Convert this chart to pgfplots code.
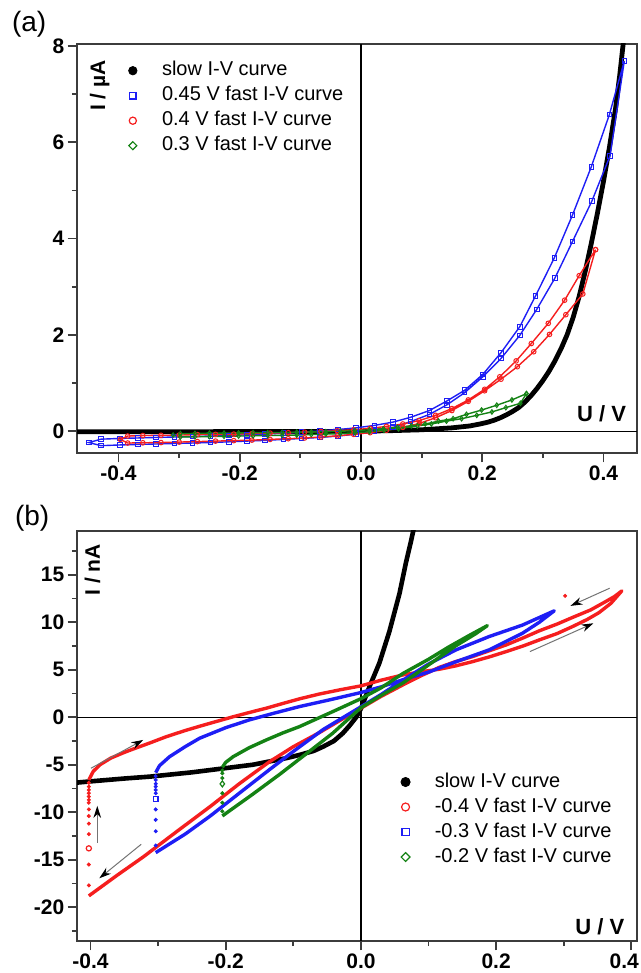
\documentclass[border=0pt]{standalone}
\usepackage{fontspec}
\setmainfont{Liberation Sans}
\usepackage{pgfplots}
\pgfplotsset{compat=1.18}
\usetikzlibrary{arrows.meta}
\definecolor{cblue}{RGB}{30,30,245}
\definecolor{cred}{RGB}{245,30,30}
\definecolor{cgreen}{RGB}{20,130,20}
\definecolor{frame}{RGB}{60,60,60}
\pgfplotsset{
  ivax/.style={
    scale only axis, width=280pt,
    axis line style={line width=0.9pt, frame},
    tick style={line width=0.9pt, frame},
    tick align=outside,
    xtick pos=bottom, ytick pos=left,
    major tick length=4.7pt, minor tick length=2.6pt,
    ticklabel style={font=\fontsize{10.5}{12}\selectfont\bfseries},
    yticklabel style={inner sep=1.5pt},
    xticklabel style={inner sep=1.4pt},
    xtick={-0.4,-0.2,0,0.2,0.4},
    xticklabels={-0.4,-0.2,0.0,0.2,0.4},
    minor xtick={-0.3,-0.1,0.1,0.3},
    legend cell align=left,
    legend style={draw=none, fill=none, inner sep=0pt,
      font=\fontsize{10}{12}\selectfont,
      nodes={inner sep=1pt, text height=7.5pt, text depth=2.5pt},
      row sep=0.5pt,
      /tikz/every odd column/.append style={column sep=9.4pt}},
  },
  topfast/.style={line width=0.7pt, mark size=1.15pt, mark options={solid, line width=0.5pt, fill=white}},
  botfast/.style={line width=1.7pt, line join=round},
  vdots/.style={only marks, mark=*, mark size=0.8pt},
}
\begin{document}
\begin{tikzpicture}
\path[use as bounding box] (0,0) rectangle (320.5pt,486.5pt);
% ---------------- (a) ----------------
\begin{axis}[ivax, name=top, at={(38.5pt,260pt)}, anchor=south west, height=204.5pt,
  xmin=-0.4686, xmax=0.4554, ymin=-0.452, ymax=8.04,
  ytick={0,2,4,6,8}, yticklabels={0,2,4,6,8}, minor ytick={1,3,5,7},
  legend style={at={(0.084,0.965)}, anchor=north west}]
\addplot[black, line width=0.7pt, forget plot] coordinates {(0,-0.452) (0,8.04)};
\addplot[black, line width=0.7pt, forget plot] coordinates {(-0.4686,0) (0.4554,0)};
% slow I-V curve
\addplot[black, line width=2.4pt, line join=round, forget plot] coordinates {
(-0.47,-0.012) (-0.4,-0.011) (-0.3,-0.010) (-0.2,-0.008) (-0.1,-0.006) (-0.05,-0.004)
(0,0) (0.05,0.012) (0.1,0.03) (0.15,0.07) (0.18,0.11) (0.2,0.16) (0.21,0.19) (0.22,0.23)
(0.23,0.28) (0.24,0.34) (0.25,0.41) (0.26,0.49) (0.27,0.60) (0.28,0.73) (0.29,0.88)
(0.30,1.05) (0.31,1.24) (0.32,1.46) (0.33,1.71) (0.34,2.0) (0.35,2.36) (0.36,2.8)
(0.37,3.32) (0.38,3.9) (0.39,4.52) (0.40,5.18) (0.41,5.9) (0.42,6.7) (0.427,7.4) (0.434,8.2)};
% 0.45 V
\addplot[cblue, topfast, mark=square, forget plot] coordinates {
(0.4345,7.69) (0.41,6.58) (0.38,5.49) (0.349,4.49) (0.319,3.60) (0.288,2.81) (0.262,2.17)
(0.231,1.63) (0.201,1.18) (0.171,0.85) (0.142,0.63) (0.113,0.43) (0.082,0.29) (0.053,0.19)
(0.022,0.12) (-0.008,0.07) (-0.038,0.035) (-0.068,0.005) (-0.098,-0.02) (-0.128,-0.04)
(-0.158,-0.06) (-0.188,-0.075) (-0.218,-0.09) (-0.248,-0.10) (-0.278,-0.11) (-0.308,-0.12)
(-0.338,-0.13) (-0.368,-0.14) (-0.398,-0.15) (-0.429,-0.165) (-0.449,-0.235)
(-0.429,-0.30) (-0.398,-0.285) (-0.368,-0.275) (-0.338,-0.265) (-0.308,-0.255)
(-0.278,-0.245) (-0.248,-0.235) (-0.218,-0.22) (-0.188,-0.205) (-0.158,-0.19)
(-0.128,-0.17) (-0.098,-0.15) (-0.068,-0.13) (-0.038,-0.10) (-0.008,-0.06) (0.022,0.0)
(0.053,0.08) (0.082,0.20) (0.113,0.35) (0.142,0.55) (0.171,0.80) (0.201,1.13)
(0.231,1.51) (0.262,1.99) (0.290,2.53) (0.320,3.18) (0.349,3.94) (0.381,4.78)
(0.411,5.72) (0.4345,7.69)};
% 0.4 V
\addplot[cred, topfast, mark=o, forget plot] coordinates {
(0.387,3.77) (0.360,3.23) (0.336,2.72) (0.309,2.24) (0.281,1.82) (0.256,1.46) (0.229,1.13)
(0.204,0.87) (0.177,0.65) (0.150,0.47) (0.123,0.33) (0.096,0.22) (0.069,0.15) (0.042,0.10)
(0.015,0.06) (-0.012,0.03) (-0.039,0.01) (-0.066,-0.005) (-0.093,-0.02) (-0.12,-0.03)
(-0.15,-0.04) (-0.18,-0.05) (-0.21,-0.06) (-0.24,-0.065) (-0.27,-0.07) (-0.30,-0.08)
(-0.33,-0.085) (-0.36,-0.09) (-0.385,-0.10) (-0.397,-0.17)
(-0.385,-0.245) (-0.36,-0.24) (-0.33,-0.235) (-0.30,-0.225) (-0.27,-0.215) (-0.24,-0.205)
(-0.21,-0.195) (-0.18,-0.185) (-0.15,-0.17) (-0.12,-0.155) (-0.093,-0.14) (-0.066,-0.12)
(-0.039,-0.095) (-0.012,-0.065) (0.015,-0.03) (0.042,0.02) (0.069,0.08) (0.096,0.16)
(0.123,0.28) (0.150,0.43) (0.177,0.62) (0.204,0.84) (0.231,1.08) (0.258,1.34)
(0.285,1.65) (0.311,2.01) (0.338,2.42) (0.366,2.85) (0.387,3.77)};
% 0.3 V
\addplot[cgreen, topfast, mark=diamond, forget plot] coordinates {
(0.273,0.78) (0.249,0.65) (0.224,0.54) (0.199,0.44) (0.174,0.35) (0.152,0.26) (0.128,0.21)
(0.106,0.15) (0.083,0.11) (0.06,0.08) (0.037,0.05) (0.014,0.03) (-0.01,0.01) (-0.034,0.0)
(-0.058,-0.01) (-0.082,-0.015) (-0.106,-0.02) (-0.13,-0.025) (-0.154,-0.03) (-0.178,-0.03)
(-0.202,-0.035) (-0.226,-0.04) (-0.25,-0.04) (-0.274,-0.045) (-0.298,-0.05) (-0.31,-0.08)
(-0.298,-0.12) (-0.274,-0.115) (-0.25,-0.11) (-0.226,-0.105) (-0.202,-0.10) (-0.178,-0.095)
(-0.154,-0.09) (-0.13,-0.085) (-0.106,-0.08) (-0.082,-0.07) (-0.058,-0.06) (-0.034,-0.05)
(-0.01,-0.03) (0.014,-0.01) (0.038,0.02) (0.062,0.05) (0.093,0.11) (0.116,0.15)
(0.141,0.21) (0.166,0.26) (0.191,0.33) (0.216,0.40) (0.239,0.49) (0.263,0.58) (0.273,0.78)};
\addlegendimage{legend image code/.code={\path (0pt,-3pt) (8pt,3pt); \fill[black] (4pt,0pt) circle[radius=2.1pt];}}
\addlegendentry{slow I-V curve}
\addlegendimage{legend image code/.code={\path (0pt,-3pt) (8pt,3pt); \draw[cblue, line width=0.6pt] (2.4pt,-1.6pt) rectangle (5.6pt,1.6pt);}}
\addlegendentry{0.45 V fast I-V curve}
\addlegendimage{legend image code/.code={\path (0pt,-3pt) (8pt,3pt); \draw[cred, line width=0.6pt] (4pt,0pt) circle[radius=1.8pt];}}
\addlegendentry{0.4 V fast I-V curve}
\addlegendimage{legend image code/.code={\path (0pt,-3pt) (8pt,3pt); \draw[cgreen, line width=0.6pt] (4pt,2pt) -- (6pt,0pt) -- (4pt,-2pt) -- (2pt,0pt) -- cycle;}}
\addlegendentry{0.3 V fast I-V curve}
\node[rotate=90, anchor=base east, font=\fontsize{10.5}{12}\selectfont\bfseries] at (rel axis cs:0.05,0.978) {I / µA};
\node[anchor=base east, font=\fontsize{11}{12}\selectfont\bfseries] at (rel axis cs:0.993,0.0758) {U / V};
\end{axis}
% ---------------- (b) ----------------
\begin{axis}[ivax, name=bot, at={(38.5pt,16pt)}, anchor=south west, height=205pt,
  xmin=-0.420, xmax=0.4084, ymin=-23.55, ymax=19.6,
  xticklabels={-0.4,-0.2,0.0,0.2,\hspace*{-7pt}0.4},
  ytick={-20,-15,-10,-5,0,5,10,15}, yticklabels={-20,-15,-10,-5,0,5,10,15},
  minor ytick={-22.5,-17.5,-12.5,-7.5,-2.5,2.5,7.5,12.5,17.5},
  legend style={at={(0.571,0.418)}, anchor=north west}]
\addplot[black, line width=0.7pt, forget plot] coordinates {(0,-23.55) (0,19.6)};
\addplot[black, line width=0.7pt, forget plot] coordinates {(-0.42,0) (0.4084,0)};
% slow
\addplot[black, line width=2.3pt, line join=round, forget plot] coordinates {
(-0.42,-6.88) (-0.4,-6.75) (-0.35,-6.45) (-0.312,-6.25) (-0.25,-5.8) (-0.205,-5.4)
(-0.16,-5.0) (-0.14,-4.72) (-0.11,-4.3) (-0.091,-3.97) (-0.07,-3.55) (-0.056,-3.1)
(-0.04,-2.5) (-0.027,-1.7) (-0.017,-0.9) (-0.007,0.0) (0.0,0.9) (0.0126,3.2)
(0.0273,5.7) (0.042,9.0) (0.057,13.0) (0.0667,16.3) (0.074,18.5) (0.078,19.8)};
% -0.4 V
\addplot[cred, botfast, forget plot] coordinates {
(-0.4025,-6.6) (-0.396,-5.7) (-0.386,-5.0) (-0.37,-4.3) (-0.35,-3.7) (-0.337,-3.35)
(-0.312,-2.7) (-0.288,-2.05) (-0.26,-1.4) (-0.2386,-0.95) (-0.214,-0.45) (-0.189,0.05)
(-0.165,0.5) (-0.14,0.95) (-0.1155,1.45) (-0.09,1.95) (-0.061,2.45) (-0.03,2.9) (0,3.3)
(0.03,3.9) (0.062,4.45) (0.09,4.8) (0.116,5.05) (0.14,5.4) (0.165,5.85) (0.19,6.35)
(0.2145,6.9) (0.24,7.5) (0.264,8.14) (0.29,8.8) (0.313,9.54) (0.335,10.3) (0.352,11.0)
(0.37,12.0) (0.386,13.3)
(0.375,12.7) (0.362,12.17) (0.34,11.3) (0.313,10.5) (0.29,9.8) (0.264,9.1) (0.24,8.35)
(0.2145,7.6) (0.19,7.0) (0.165,6.38) (0.14,5.85) (0.116,5.25) (0.09,4.4) (0.062,3.4)
(0.03,2.2) (0,0.95) (-0.03,-0.3) (-0.061,-1.6) (-0.1,-3.1) (-0.135,-4.67) (-0.18,-7.0)
(-0.223,-9.4) (-0.27,-11.9) (-0.322,-14.7) (-0.36,-16.6) (-0.4025,-18.8)};
\addplot[cred, vdots, forget plot] coordinates {
(-0.4025,-6.9) (-0.4025,-7.3) (-0.4025,-7.65) (-0.4025,-8.0) (-0.4025,-8.35) (-0.4025,-8.7)
(-0.4025,-9.0) (-0.4025,-9.7) (-0.4025,-10.4) (-0.4025,-11.2) (-0.4025,-12.3)
(-0.4025,-15.5) (-0.4025,-17.7) (0.302,12.77)};
\addplot[cred, only marks, mark=o, mark size=1.3pt, mark options={line width=0.6pt}, forget plot] coordinates {(-0.4025,-13.8)};
% -0.3 V
\addplot[cblue, botfast, forget plot] coordinates {
(-0.3036,-5.83) (-0.298,-5.1) (-0.283,-4.15) (-0.26,-3.1) (-0.2386,-2.21) (-0.2,-1.1)
(-0.165,-0.28) (-0.13,0.4) (-0.091,1.12) (-0.045,1.85) (0,2.6) (0.03,3.2) (0.062,3.95)
(0.1,4.75) (0.141,5.85) (0.19,7.1) (0.239,8.84) (0.264,10.0) (0.286,11.2)
(0.264,10.5) (0.239,9.7) (0.19,8.5) (0.141,7.1) (0.1,5.6) (0.062,3.9) (0.03,2.4) (0,1.1)
(-0.056,-1.3) (-0.1,-3.6) (-0.135,-5.5) (-0.18,-8.0) (-0.223,-10.4) (-0.26,-12.3)
(-0.3036,-14.25)};
\addplot[cblue, vdots, forget plot] coordinates {
(-0.3036,-6.2) (-0.3036,-6.6) (-0.3036,-7.0) (-0.3036,-7.3) (-0.3036,-7.65) (-0.3036,-8.0)
(-0.3036,-9.7) (-0.3036,-10.8) (-0.3036,-12.0) (-0.3036,-13.5)};
\addplot[cblue, only marks, mark=square, mark size=1.2pt, mark options={line width=0.6pt}, forget plot] coordinates {(-0.3036,-8.63)};
% -0.2 V
\addplot[cgreen, botfast, forget plot] coordinates {
(-0.205,-5.27) (-0.2,-4.75) (-0.189,-4.15) (-0.165,-3.2) (-0.14,-2.39) (-0.1155,-1.65)
(-0.091,-0.99) (-0.0417,0.59) (0,1.95) (0.03,3.1) (0.062,4.6) (0.1,6.1) (0.13,7.4)
(0.16,8.6) (0.187,9.64)
(0.17,8.8) (0.14,7.5) (0.116,6.3) (0.09,5.0) (0.062,3.6) (0.03,2.3) (0,1.0)
(-0.0417,-1.68) (-0.08,-3.8) (-0.12,-6.0) (-0.16,-8.1) (-0.205,-10.39)};
\addplot[cgreen, vdots, forget plot] coordinates {
(-0.205,-5.6) (-0.205,-5.9) (-0.205,-6.4) (-0.205,-8.0) (-0.205,-9.0) (-0.205,-9.9)};
\addplot[cgreen, only marks, mark=diamond, mark size=1.5pt, mark options={line width=0.6pt}, forget plot] coordinates {(-0.205,-7.02)};
% arrows
\draw[black!55, line width=0.5pt, -{Stealth[length=6pt, width=3.8pt, color=black]}] (axis cs:-0.3994,-5.37) -- (axis cs:-0.322,-2.39);
\draw[black!55, line width=0.5pt, -{Stealth[length=6pt, width=3.8pt, color=black]}] (axis cs:-0.390,-13.2) -- (axis cs:-0.390,-9.33);
\draw[black!55, line width=0.5pt, -{Stealth[length=6pt, width=3.8pt, color=black]}] (axis cs:-0.325,-13.37) -- (axis cs:-0.387,-16.95);
\draw[black!55, line width=0.5pt, -{Stealth[length=6pt, width=3.8pt, color=black]}] (axis cs:0.368,13.58) -- (axis cs:0.310,11.72);
\draw[black!55, line width=0.5pt, -{Stealth[length=6pt, width=3.8pt, color=black]}] (axis cs:0.25,6.91) -- (axis cs:0.344,9.89);
\addlegendimage{legend image code/.code={\path (0pt,-3pt) (8pt,3pt); \fill[black] (4pt,0pt) circle[radius=2.3pt];}}
\addlegendentry{slow I-V curve}
\addlegendimage{legend image code/.code={\path (0pt,-3pt) (8pt,3pt); \draw[cred, line width=0.6pt] (4pt,0pt) circle[radius=2pt];}}
\addlegendentry{-0.4 V fast I-V curve}
\addlegendimage{legend image code/.code={\path (0pt,-3pt) (8pt,3pt); \draw[cblue, line width=0.6pt] (2.2pt,-1.8pt) rectangle (5.8pt,1.8pt);}}
\addlegendentry{-0.3 V fast I-V curve}
\addlegendimage{legend image code/.code={\path (0pt,-3pt) (8pt,3pt); \draw[cgreen, line width=0.6pt] (4pt,2.2pt) -- (6.2pt,0pt) -- (4pt,-2.2pt) -- (1.8pt,0pt) -- cycle;}}
\addlegendentry{-0.2 V fast I-V curve}
\node[rotate=90, anchor=base east, font=\fontsize{10.5}{12}\selectfont\bfseries] at (rel axis cs:0.041,0.985) {I / nA};
\node[anchor=base east, font=\fontsize{11}{12}\selectfont\bfseries] at (rel axis cs:0.990,0.015) {U / V};
\end{axis}
\node[anchor=base west, font=\fontsize{14}{16}\selectfont] at ([xshift=-36pt,yshift=6pt]top.north west) {(a)};
\node[anchor=base west, font=\fontsize{14}{16}\selectfont] at ([xshift=-34.5pt,yshift=2.5pt]bot.north west) {(b)};
\end{tikzpicture}
\end{document}
